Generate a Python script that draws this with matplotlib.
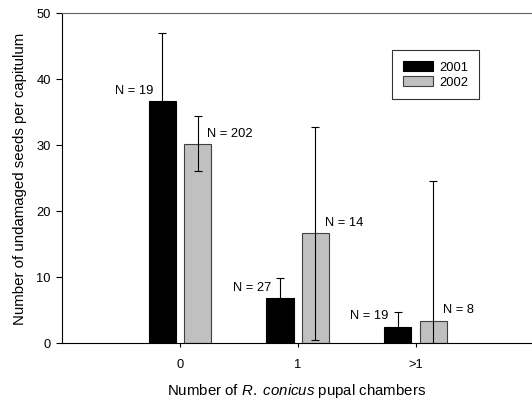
import matplotlib
matplotlib.use("Agg")
import matplotlib.pyplot as plt
import numpy as np

plt.rcParams['font.family'] = ['Liberation Sans', 'DejaVu Sans']
plt.rcParams['mathtext.fontset'] = 'custom'
plt.rcParams['mathtext.it'] = 'Liberation Sans:italic'
plt.rcParams['mathtext.rm'] = 'Liberation Sans'

categories = ['0', '1', '>1']
years = ['2001', '2002']
means_2001 = [36.7, 6.8, 2.5]
err_2001 = [10.3, 3.1, 2.2]
means_2002 = [30.2, 16.6, 3.4]
err_2002 = [4.2, 16.1, 21.2]
n_2001 = [19, 27, 19]
n_2002 = [202, 14, 8]

fig = plt.figure(figsize=(5.32, 4.02), dpi=100)
ax = fig.add_axes([62/532, 58/402, 469/532, 330/402])

x = np.arange(len(categories))
w = 0.23
off = 0.15
ax.bar(x - off, means_2001, w, color='black', edgecolor='black', linewidth=0.8, label=years[0], zorder=2)
ax.bar(x + off, means_2002, w, color='#c0c0c0', edgecolor='#404040', linewidth=0.8, label=years[1], zorder=2)
ax.errorbar(x - off, means_2001, yerr=err_2001, fmt='none', ecolor='black', elinewidth=0.8, capsize=3, capthick=0.8, zorder=3)
ax.errorbar(x + off, means_2002, yerr=err_2002, fmt='none', ecolor='black', elinewidth=0.8, capsize=3, capthick=0.8, zorder=3)

for xi, m, n in zip(x - off, means_2001, n_2001):
    ax.annotate(f'N = {n}', xy=(xi, m), xytext=(-6.5, 8), textcoords='offset points',
                ha='right', va='center', fontsize=9.3)
for xi, m, n in zip(x + off, means_2002, n_2002):
    ax.annotate(f'N = {n}', xy=(xi, m), xytext=(7, 8), textcoords='offset points',
                ha='left', va='center', fontsize=9.3)

ax.set_xlim(-1, 2.98)
ax.set_ylim(0, 50)
ax.set_yticks([0, 10, 20, 30, 40, 50])
ax.set_xticks(x)
ax.set_xticklabels(categories)
ax.tick_params(axis='y', direction='out', length=4, width=0.8, labelsize=9.3, pad=4)
ax.tick_params(axis='x', direction='out', length=3, width=0.8, labelsize=9.3, pad=8)
ax.spines['right'].set_visible(False)
ax.spines['top'].set_color('#606060')
for s in ['left', 'bottom', 'top']:
    ax.spines[s].set_linewidth(0.8)
ax.spines['left'].set_color('black')
ax.spines['bottom'].set_color('black')

ax.set_xlabel(r'Number of $\it{R.\ conicus}$ pupal chambers', fontsize=10.8, labelpad=8)
ax.set_ylabel('Number of undamaged seeds per capitulum', fontsize=10.8, labelpad=7)

leg = ax.legend(loc='upper left', bbox_to_anchor=((392-62)/469, (344-51)/330), fontsize=9.3,
                frameon=True, fancybox=False, edgecolor='black', handlelength=2.3,
                handleheight=0.76, borderpad=0.85, labelspacing=0.22, handletextpad=0.5,
                borderaxespad=0)
leg.get_frame().set_linewidth(0.8)

fig.savefig('out.png', dpi=100)
